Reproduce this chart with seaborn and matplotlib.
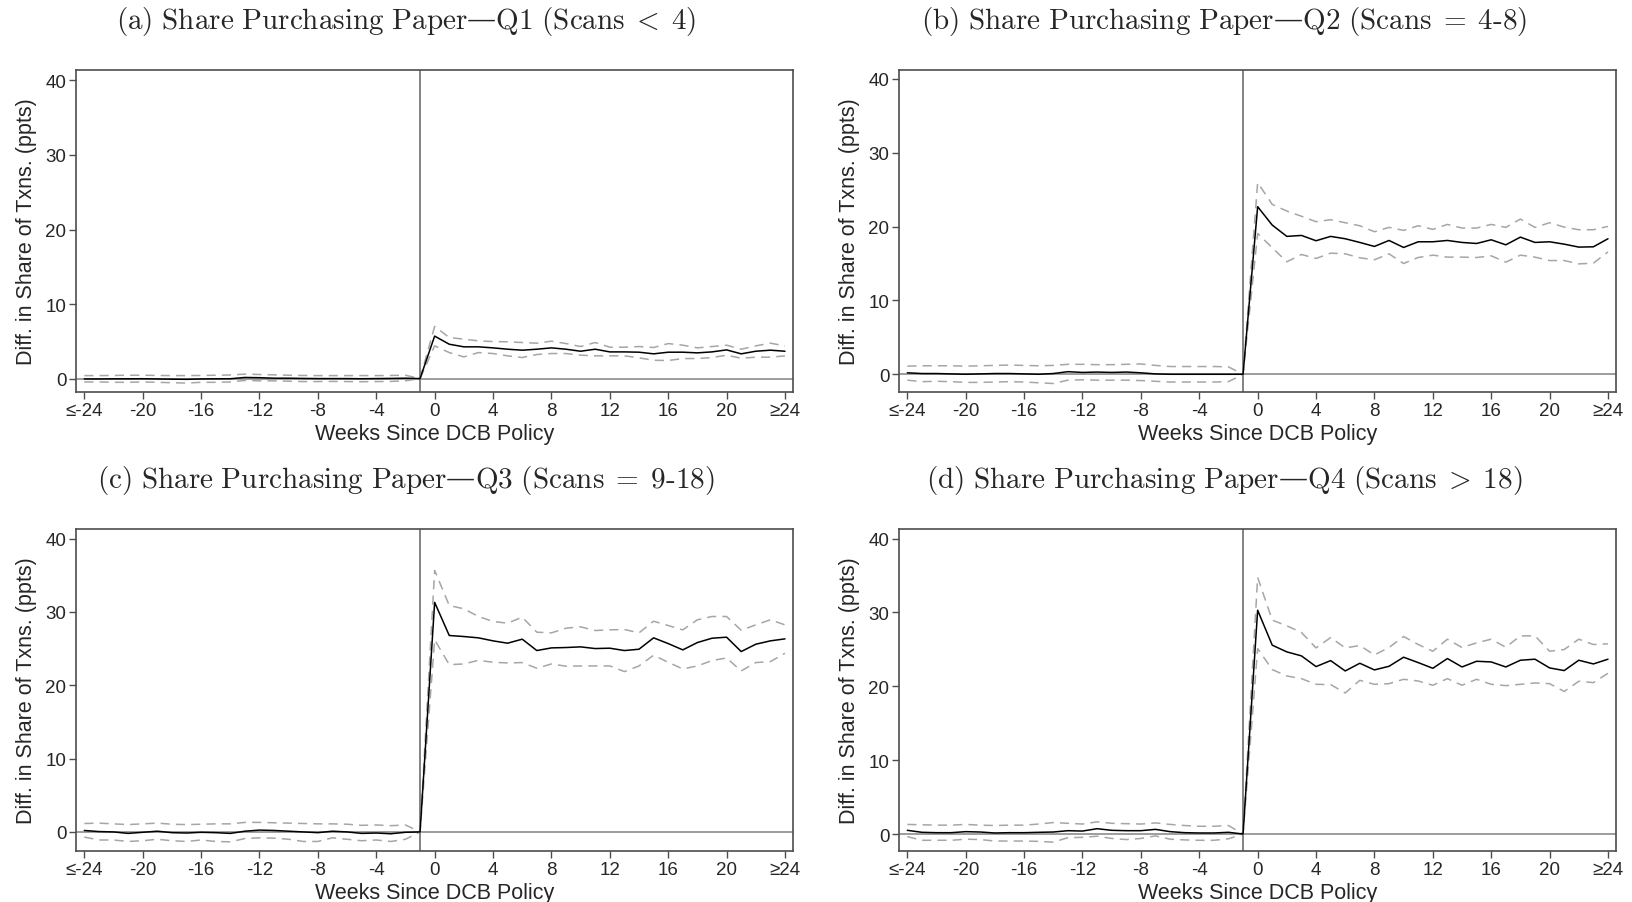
import numpy as np
import pandas as pd
import seaborn as sns
import matplotlib.pyplot as plt

# ----------------------------
# Data
# ----------------------------
weeks = list(range(-24, 25))
tick_pos = [-24, -20, -16, -12, -8, -4, 0, 4, 8, 12, 16, 20, 24]
tick_lab = ["≤-24", "-20", "-16", "-12", "-8", "-4", "0", "4", "8", "12", "16", "20", "≥24"]

# mathtext (Computer Modern) for the titles; the em dash sits outside math
titles = [
    r"$\mathrm{(a)\ Share\ Purchasing\ Paper}$—$\mathrm{Q1\ (Scans}\;<\;\mathrm{4)}$",
    r"$\mathrm{(b)\ Share\ Purchasing\ Paper}$—$\mathrm{Q2\ (Scans}\;=\;\mathrm{4\text{-}8)}$",
    r"$\mathrm{(c)\ Share\ Purchasing\ Paper}$—$\mathrm{Q3\ (Scans}\;=\;\mathrm{9\text{-}18)}$",
    r"$\mathrm{(d)\ Share\ Purchasing\ Paper}$—$\mathrm{Q4\ (Scans}\;>\;\mathrm{18)}$",
]

# weeks -24..-2, then week -1 (=0, omitted), then weeks 0..24
q1_pre = [-0.05, -0.05, -0.03, -0.03, -0.02, -0.05, -0.08, -0.1, -0.05, -0.03, -0.02, 0.15,
          0.12, 0.05, 0.05, 0.02, 0.0, 0.0, 0.0, -0.02, 0.0, 0.02, 0.05]
q1_pre_hi = [0.4, 0.4, 0.42, 0.45, 0.45, 0.42, 0.4, 0.4, 0.42, 0.45, 0.48, 0.6, 0.55, 0.5,
             0.45, 0.42, 0.4, 0.4, 0.4, 0.4, 0.4, 0.42, 0.45]
q1_pre_lo = [-0.45, -0.45, -0.5, -0.5, -0.45, -0.5, -0.55, -0.6, -0.5, -0.5, -0.45, -0.25,
             -0.3, -0.3, -0.35, -0.4, -0.4, -0.38, -0.4, -0.42, -0.4, -0.38, -0.3]
q1_post = [5.7, 4.61, 4.26, 4.26, 4.12, 3.94, 3.81, 3.94, 4.12, 3.94, 3.67, 3.94, 3.58, 3.58,
           3.54, 3.32, 3.54, 3.54, 3.45, 3.58, 3.85, 3.32, 3.67, 3.81, 3.67]
q1_post_hi = [7.0, 5.51, 5.29, 5.06, 4.97, 4.93, 4.84, 4.75, 5.02, 4.7, 4.3, 4.84, 4.21, 4.21,
              4.3, 4.17, 4.7, 4.48, 4.12, 4.3, 4.48, 3.94, 4.39, 4.75, 4.39]
q1_post_lo = [4.39, 3.49, 2.91, 3.49, 3.36, 3.05, 2.82, 3.23, 3.36, 3.36, 3.14, 3.05, 3.05, 3.05,
              2.78, 2.46, 2.42, 2.69, 2.69, 2.82, 3.14, 2.73, 2.87, 2.87, 3.05]

q2_pre = [0.2, 0.1, 0.1, 0.05, 0.0, 0.05, 0.1, 0.1, 0.05, 0.0, 0.1, 0.35, 0.25, 0.3, 0.25,
          0.3, 0.2, 0.05, 0.0, 0.0, 0.0, 0.0, 0.0]
q2_pre_hi = [1.1, 1.15, 1.15, 1.15, 1.1, 1.15, 1.2, 1.25, 1.2, 1.15, 1.2, 1.35, 1.35, 1.3,
             1.3, 1.35, 1.4, 1.2, 1.05, 1.05, 1.05, 1.05, 1.0]
q2_pre_lo = [-0.8, -1.0, -0.95, -1.0, -1.1, -1.1, -1.05, -1.0, -1.05, -1.15, -1.25, -0.8,
             -0.75, -0.8, -0.8, -0.8, -0.85, -0.95, -1.05, -1.05, -1.05, -1.05, -1.0]
q2_post = [22.69, 20.2, 18.67, 18.8, 18.08, 18.67, 18.35, 17.85, 17.31, 18.12, 17.17, 17.94,
           17.94, 18.12, 17.85, 17.71, 18.21, 17.53, 18.57, 17.85, 17.94, 17.62, 17.22, 17.26, 18.35]
q2_post_hi = [25.95, 23.0, 22.1, 21.4, 20.66, 20.93, 20.52, 20.11, 19.3, 19.89, 19.48, 20.11,
              19.62, 20.29, 19.8, 19.8, 20.29, 19.89, 21.02, 19.89, 20.52, 19.93, 19.57, 19.57, 20.02]
q2_post_lo = [19.07, 17.13, 15.23, 16.22, 15.68, 16.4, 16.31, 15.77, 15.5, 16.31, 15.0, 15.81,
              16.13, 15.86, 15.86, 15.81, 16.04, 15.18, 16.13, 15.86, 15.4, 15.4, 14.95, 15.04, 16.58]

q3_pre = [0.2, 0.05, 0.0, -0.2, -0.05, 0.1, -0.1, -0.15, -0.05, -0.1, -0.2, 0.1, 0.25, 0.2,
          0.1, 0.0, -0.1, 0.1, 0.0, -0.2, -0.15, -0.25, -0.05]
q3_pre_hi = [1.15, 1.2, 1.1, 1.0, 1.1, 1.2, 1.05, 1.0, 1.05, 1.1, 1.1, 1.3, 1.3, 1.25, 1.2,
             1.15, 1.1, 1.1, 1.05, 0.9, 0.95, 0.85, 0.95]
q3_pre_lo = [-0.7, -1.1, -1.1, -1.3, -1.2, -1.0, -1.2, -1.3, -1.1, -1.3, -1.35, -0.9, -0.8,
             -0.85, -1.0, -1.3, -1.3, -0.8, -1.0, -1.2, -1.1, -1.3, -1.0]
q3_post = [31.3, 26.78, 26.64, 26.46, 26.05, 25.73, 26.28, 24.73, 25.09, 25.14, 25.23, 25.0,
           25.05, 24.73, 24.91, 26.46, 25.68, 24.82, 25.82, 26.41, 26.55, 24.59, 25.59, 26.05, 26.32]
q3_post_hi = [35.66, 30.87, 30.42, 29.37, 28.69, 28.46, 29.28, 27.23, 27.14, 27.78, 27.96, 27.46,
              27.55, 27.6, 27.14, 28.73, 28.14, 27.55, 28.92, 29.37, 29.37, 27.5, 28.23, 28.92, 28.23]
q3_post_lo = [26.2, 22.81, 22.9, 23.4, 23.13, 23.04, 23.09, 22.31, 22.9, 22.59, 22.63, 22.63,
              22.63, 21.86, 22.63, 24.09, 23.13, 22.22, 22.63, 23.36, 23.72, 21.95, 23.09, 23.22, 24.36]

q4_pre = [0.5, 0.23, 0.18, 0.18, 0.32, 0.27, 0.14, 0.18, 0.18, 0.23, 0.27, 0.45, 0.4, 0.72,
          0.5, 0.45, 0.45, 0.63, 0.32, 0.18, 0.14, 0.14, 0.23]
q4_pre_hi = [1.3, 1.25, 1.2, 1.2, 1.3, 1.2, 1.15, 1.2, 1.2, 1.35, 1.55, 1.45, 1.35, 1.65,
             1.45, 1.4, 1.35, 1.5, 1.3, 1.15, 1.05, 1.05, 1.15]
q4_pre_lo = [-0.35, -0.85, -0.85, -0.85, -0.7, -0.75, -0.95, -0.95, -0.95, -1.0, -1.1, -0.5,
             -0.45, -0.3, -0.6, -0.75, -0.6, -0.25, -0.7, -0.8, -0.85, -0.85, -0.65]
q4_post = [30.3, 25.57, 24.66, 24.12, 22.67, 23.48, 22.08, 23.12, 22.22, 22.71, 23.94, 23.21,
           22.44, 23.76, 22.62, 23.39, 23.3, 22.62, 23.53, 23.67, 22.49, 22.13, 23.53, 23.03, 23.67]
q4_post_hi = [34.75, 28.96, 28.19, 27.29, 25.2, 26.6, 25.2, 25.52, 24.25, 25.25, 26.74, 25.66,
              24.75, 26.38, 25.25, 25.88, 26.38, 25.29, 26.83, 26.83, 24.75, 24.98, 26.38, 25.66, 25.75]
q4_post_lo = [25.1, 22.26, 21.4, 21.04, 20.27, 20.23, 19.1, 20.81, 20.27, 20.36, 20.95, 20.72,
              20.14, 21.04, 20.14, 20.95, 20.27, 20.09, 20.27, 20.45, 20.36, 19.3, 20.68, 20.5, 21.76]

ref_week = -1
ylims = [(-1.8, 41.4), (-2.4, 41.2), (-2.6, 41.3), (-2.3, 41.3)]


def _series(pre, post):
    """Join pre-period, omitted week (0) and post-period into one list."""
    return list(pre) + [0.0] + list(post)


panels = [
    (q1_pre, q1_pre_hi, q1_pre_lo, q1_post, q1_post_hi, q1_post_lo),
    (q2_pre, q2_pre_hi, q2_pre_lo, q2_post, q2_post_hi, q2_post_lo),
    (q3_pre, q3_pre_hi, q3_pre_lo, q3_post, q3_post_hi, q3_post_lo),
    (q4_pre, q4_pre_hi, q4_pre_lo, q4_post, q4_post_hi, q4_post_lo),
]

# ----------------------------
# Figure
# ----------------------------
sns.set_style("white")
plt.rcParams["font.family"] = ["Liberation Sans", "DejaVu Sans"]
plt.rcParams["mathtext.fontset"] = "cm"

W, H = 1632, 903
fig = plt.figure(figsize=(W / 100, H / 100), dpi=100)

# axes boxes in pixels: left, top, right, bottom
boxes = [(76, 71, 793, 393), (899, 71, 1616, 393), (76, 530, 793, 852), (899, 530, 1616, 852)]
title_xy = [(406, 22), (1224, 22), (406, 481), (1224, 481)]

spine_col = "#4d4d4d"
for i, (pre, pre_hi, pre_lo, post, post_hi, post_lo) in enumerate(panels):
    l, t, r, b = boxes[i]
    ax = fig.add_axes([l / W, 1 - b / H, (r - l) / W, (b - t) / H])

    df = pd.DataFrame({
        "week": weeks,
        "coef": _series(pre, post),
        "hi": _series(pre_hi, post_hi),
        "lo": _series(pre_lo, post_lo),
    })

    ax.axhline(0, color="#8c8c8c", lw=1.2, zorder=1)
    ax.axvline(ref_week, color="#6e6e6e", lw=1.2, zorder=1)
    for col in ["hi", "lo"]:
        sns.lineplot(data=df, x="week", y=col, ax=ax, color="#a6a6a6", lw=1.1,
                     linestyle=(0, (6, 4)), zorder=2)
    sns.lineplot(data=df, x="week", y="coef", ax=ax, color="black", lw=1.1, zorder=3)

    ax.set_xlim(-24.57, 24.55)
    ax.set_ylim(*ylims[i])
    ax.set_xticks(tick_pos)
    ax.set_xticklabels(tick_lab)
    ax.set_yticks([0, 10, 20, 30, 40])
    ax.tick_params(axis="both", which="major", direction="out", length=5, width=1,
                   color=spine_col, labelsize=13.5, pad=2, bottom=True, left=True)
    for s in ax.spines.values():
        s.set_color(spine_col)
        s.set_linewidth(1.2)

    ax.set_xlabel("Weeks Since DCB Policy", fontsize=15.5, labelpad=3)
    ax.set_ylabel("Diff. in Share of Txns. (ppts)", fontsize=15.5, labelpad=6)

    tx, ty = title_xy[i]
    fig.text(tx / W, 1 - ty / H, titles[i], ha="center", va="center", fontsize=21,
             family=["DejaVu Serif"])

fig.savefig("out.png", dpi=100)
plt.close("all")
